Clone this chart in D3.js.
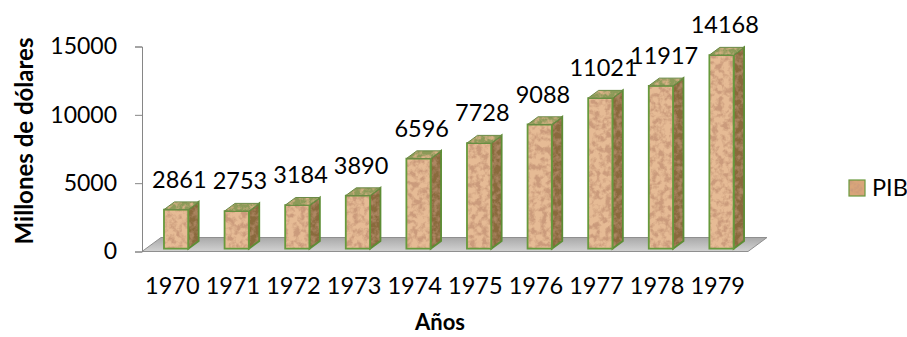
<!DOCTYPE html>
<html>
<head>
<meta charset="utf-8">
<script src="https://cdn.jsdelivr.net/npm/d3@7"></script>
<style>
  html, body { margin: 0; padding: 0; background: #fff; }
  svg { display: block; font-family: Lato, "Open Sans", sans-serif; }
</style>
</head>
<body>
<svg id="chart" width="907" height="337"></svg>
<script>
// PIB anual, millones de dólares
const years = ["1970", "1971", "1972", "1973", "1974", "1975", "1976", "1977", "1978", "1979"];
const pib = [2861, 2753, 3184, 3890, 6596, 7728, 9088, 11021, 11917, 14168];
const yTicks = [0, 5000, 10000, 15000];
const seriesName = "PIB";
const yTitle = "Millones de dólares";
const xTitle = "Años";

const svg = d3.select("#chart");

// front plane of the 3-D plot area
const x = d3.scaleBand().domain(years).range([142, 748]).paddingInner(0.6).paddingOuter(0.3);
const y = d3.scaleLinear().domain([0, 15000]).range([251.5, 46.5]);

// oblique depth: full floor depth shifts right and up
const depthDX = 19, depthDY = -14;
const zFront = 0.2, zBack = 0.75;   // bar depth as fraction of floor depth
const off = z => [depthDX * z, depthDY * z];

const defs = svg.append("defs");

// stone-like grain for the column faces
function grainFilter(id, rgb, gain, bias, freq, seed) {
  const f = defs.append("filter").attr("id", id)
    .attr("x", "0%").attr("y", "0%").attr("width", "100%").attr("height", "100%");
  f.append("feTurbulence").attr("type", "fractalNoise")
    .attr("baseFrequency", freq).attr("numOctaves", 3).attr("seed", seed).attr("result", "noise");
  f.append("feColorMatrix").attr("in", "noise").attr("type", "matrix")
    .attr("values", `0 0 0 0 ${rgb[0]}  0 0 0 0 ${rgb[1]}  0 0 0 0 ${rgb[2]}  ${gain} 0 0 0 ${bias}`)
    .attr("result", "spots");
  f.append("feComposite").attr("in", "spots").attr("in2", "SourceGraphic").attr("operator", "atop");
}
grainFilter("grainFront", [0.60, 0.33, 0.20], 3.6, -1.45, 0.17, 4);
grainFilter("grainSide", [0.42, 0.24, 0.12], 3.0, -1.2, 0.18, 9);
grainFilter("grainTop", [0.72, 0.45, 0.25], 2.6, -1.1, 0.2, 2);

const floorGrad = defs.append("linearGradient").attr("id", "floorGrad")
  .attr("x1", 0).attr("y1", 0).attr("x2", 0).attr("y2", 1);
floorGrad.append("stop").attr("offset", "0%").attr("stop-color", "#a9a9a9");
floorGrad.append("stop").attr("offset", "100%").attr("stop-color", "#d2d2d2");

// floor
const [x0, x1] = x.range();
const y0 = y(0);
const fb = off(1);
svg.append("path")
  .attr("d", `M${x0},${y0} L${x1},${y0} L${x1 + fb[0]},${y0 + fb[1]} L${x0 + fb[0]},${y0 + fb[1]} Z`)
  .attr("fill", "url(#floorGrad)").attr("stroke", "#8f8f8f").attr("stroke-width", 1);

// value axis on the front-left edge
const yAxis = svg.append("g").attr("transform", `translate(${x0},0)`)
  .call(d3.axisLeft(y).tickValues(yTicks).tickSize(7).tickPadding(18).tickFormat(d3.format("d")));
yAxis.select(".domain").attr("stroke", "#868686");
yAxis.selectAll(".tick line").attr("stroke", "#868686");
yAxis.selectAll(".tick text").attr("font-size", 23).attr("fill", "#000")
  .attr("font-family", "Lato, 'Open Sans', sans-serif");

// columns
const bars = svg.append("g").selectAll("g").data(years.map((yr, i) => ({ yr, v: pib[i] })))
  .join("g");

bars.each(function (d) {
  const g = d3.select(this);
  const xl = x(d.yr), xr = xl + x.bandwidth();
  const [fx, fy] = off(zFront), [bx, by] = off(zBack);
  const yb = y(0), yt = y(d.v);
  const front = `M${xl + fx},${yb + fy} L${xr + fx},${yb + fy} L${xr + fx},${yt + fy} L${xl + fx},${yt + fy} Z`;
  const side = `M${xr + fx},${yb + fy} L${xr + bx},${yb + by} L${xr + bx},${yt + by} L${xr + fx},${yt + fy} Z`;
  const top = `M${xl + fx},${yt + fy} L${xr + fx},${yt + fy} L${xr + bx},${yt + by} L${xl + bx},${yt + by} Z`;
  g.append("path").attr("d", side).attr("fill", "#8a6a3e").attr("filter", "url(#grainSide)");
  g.append("path").attr("d", side).attr("fill", "none").attr("stroke", "#5d8d35").attr("stroke-width", 1.8);
  g.append("path").attr("d", front).attr("fill", "#e6bb95").attr("filter", "url(#grainFront)");
  g.append("path").attr("d", front).attr("fill", "none").attr("stroke", "#679a3c").attr("stroke-width", 1.8);
  g.append("path").attr("d", top).attr("fill", "#8c9a58").attr("filter", "url(#grainTop)");
  g.append("path").attr("d", top).attr("fill", "none").attr("stroke", "#6a8a45").attr("stroke-width", 1);

  // value label above the column
  g.append("text")
    .attr("x", (xl + xr) / 2 + (fx + bx) / 2 - 2)
    .attr("y", yt + by - 14)
    .attr("text-anchor", "middle").attr("font-size", 23.5).attr("fill", "#000")
    .text(d3.format("d")(d.v));
});

// category labels
svg.append("g").selectAll("text").data(years).join("text")
  .attr("x", d => x(d) + x.bandwidth() / 2)
  .attr("y", 294)
  .attr("text-anchor", "middle").attr("font-size", 23.5).attr("fill", "#000")
  .text(d => d);

// axis titles
svg.append("text").attr("x", 440).attr("y", 330).attr("text-anchor", "middle")
  .attr("font-size", 22).attr("font-weight", "bold").text(xTitle);
svg.append("text").attr("transform", "translate(33,141) rotate(-90)").attr("text-anchor", "middle")
  .attr("font-size", 24).attr("font-weight", "bold").text(yTitle);

// legend
const lg = svg.append("g").attr("transform", "translate(849,180)");
lg.append("rect").attr("width", 16).attr("height", 16)
  .attr("fill", "#d9a57a").attr("filter", "url(#grainFront)");
lg.append("rect").attr("width", 16).attr("height", 16)
  .attr("fill", "none").attr("stroke", "#6a9a3e").attr("stroke-width", 1.2);
lg.append("text").attr("x", 23).attr("y", 16).attr("font-size", 23.5).attr("fill", "#000").text(seriesName);
</script>
</body>
</html>
